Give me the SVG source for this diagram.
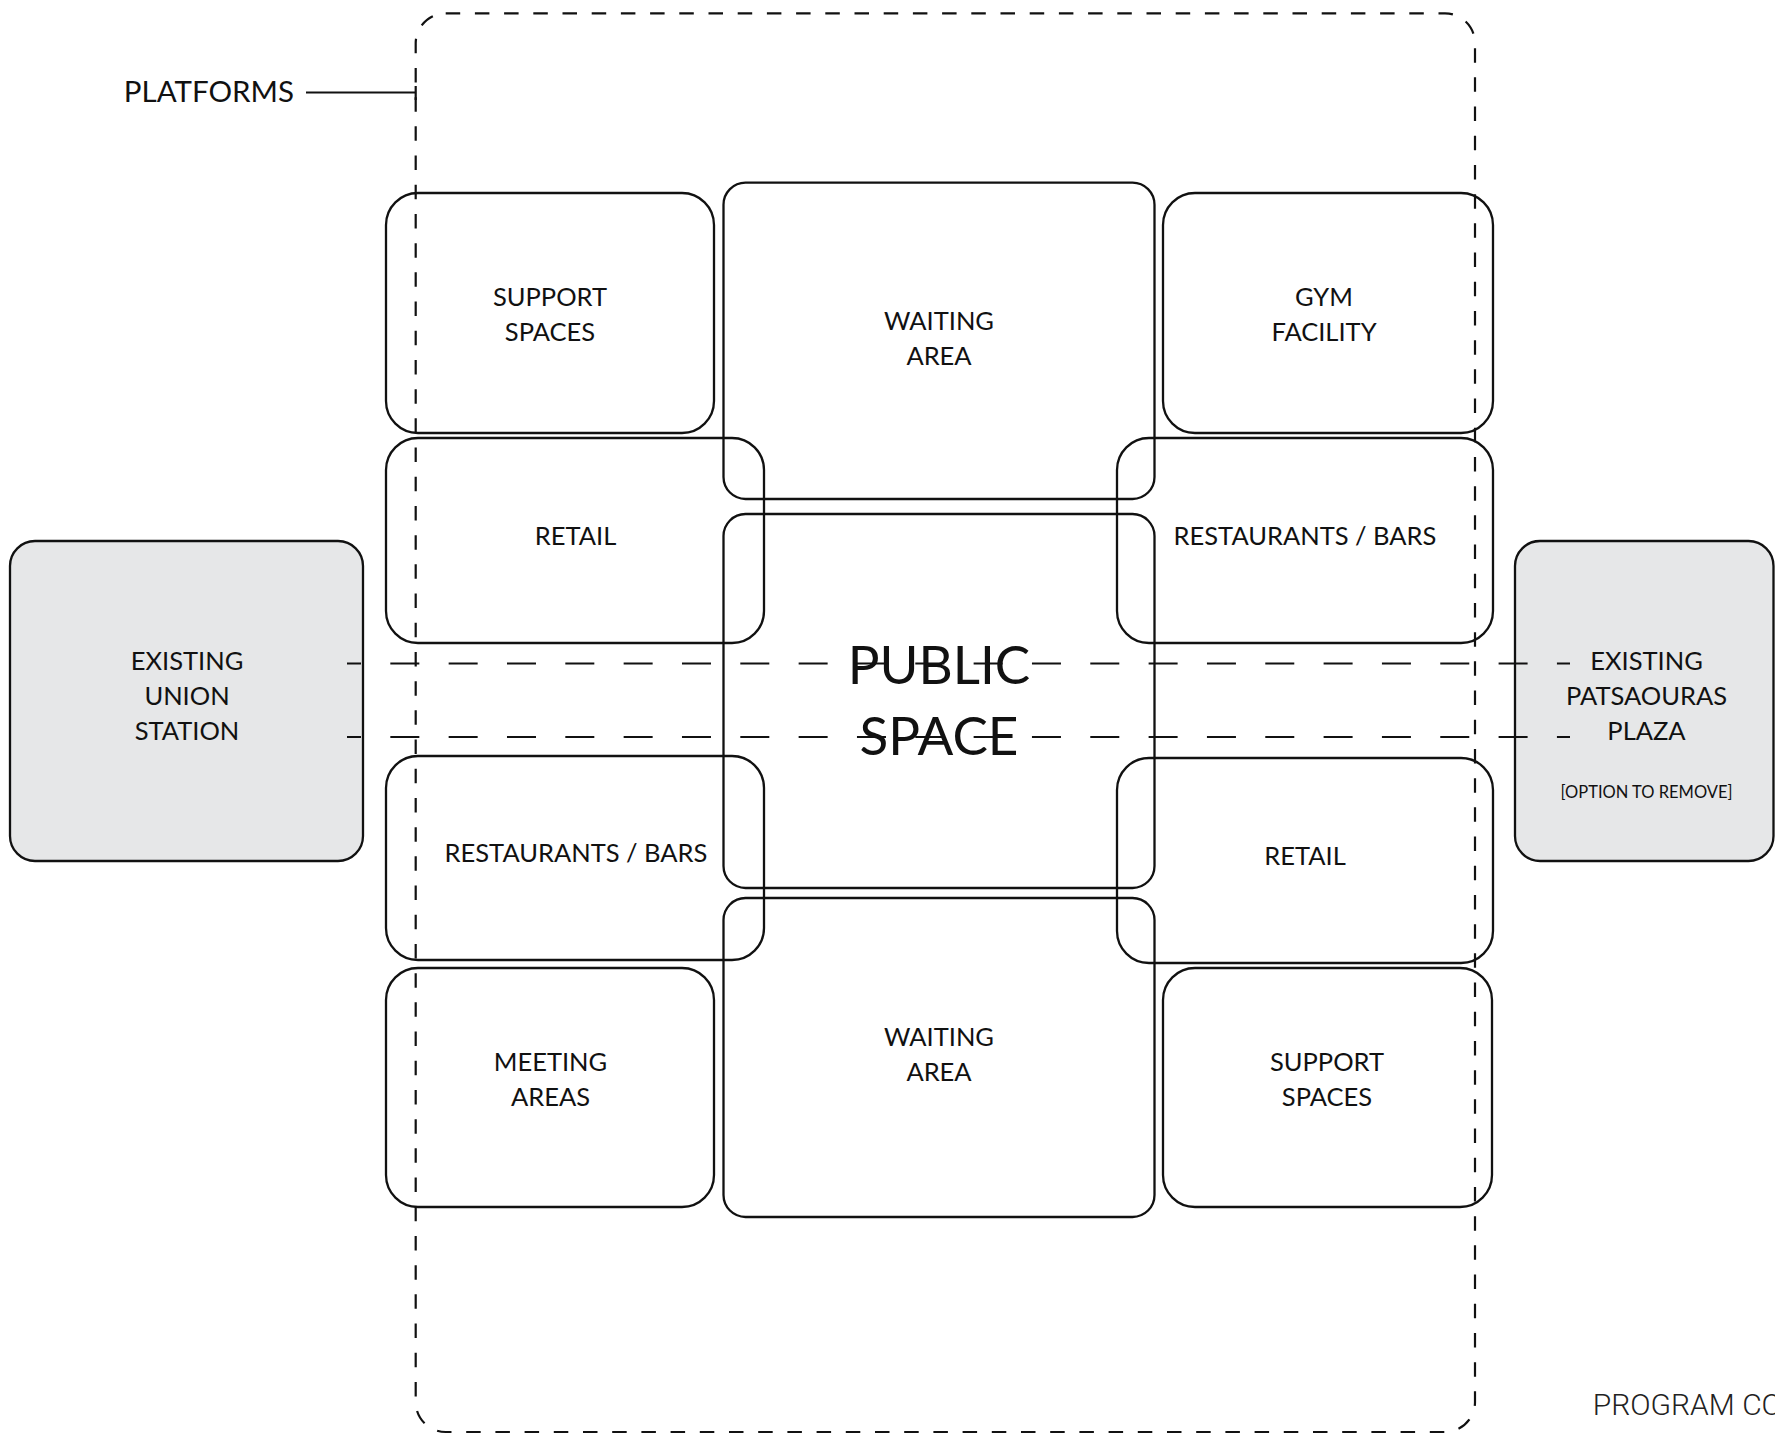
<svg xmlns="http://www.w3.org/2000/svg" width="1775" height="1438" viewBox="0 0 1775 1438">
  <style>
    .room { fill: none; stroke: #111; stroke-width: 2.3; }
    .existing { fill: #e6e7e8; stroke: #111; stroke-width: 2.3; }
    .zone { fill: none; stroke: #111; stroke-width: 2.2; stroke-dasharray: 14.5 14.7; }
    .axis { fill: none; stroke: #111; stroke-width: 2.2; stroke-dasharray: 29 29.33; }
    .leader { fill: none; stroke: #111; stroke-width: 2.2; }
    .lbl { font-family: Lato, "Liberation Sans", sans-serif; font-size: 25.5px; fill: #111; text-anchor: middle; }
    .big { font-size: 53px; }
    .small { font-size: 16.5px; }
    .title { font-family: Roboto, "Liberation Sans", sans-serif; font-weight: 300; font-size: 30px; fill: #222; }
  </style>

  <rect width="1775" height="1438" fill="#fff"/>

  <!-- existing neighbours -->
  <g id="union-station">
    <rect class="existing" x="10" y="541" width="353" height="320" rx="25"/>
    <text class="lbl"><tspan x="187" y="670">EXISTING</tspan><tspan x="187" y="704.5">UNION</tspan><tspan x="187" y="739.5">STATION</tspan></text>
  </g>
  <g id="patsaouras-plaza">
    <rect class="existing" x="1515" y="541" width="258.5" height="320" rx="25"/>
    <text class="lbl"><tspan x="1646.5" y="670">EXISTING</tspan><tspan x="1646.5" y="705">PATSAOURAS</tspan><tspan x="1646.5" y="740">PLAZA</tspan></text>
    <text class="lbl small" x="1646.5" y="798">[OPTION TO REMOVE]</text>
  </g>

  <!-- platform zone -->
  <g id="platforms">
    <rect class="zone" x="415.7" y="13.3" width="1059.3" height="1418.7" rx="30"/>
    <text class="lbl" style="font-size:29.5px;text-anchor:end" x="294" y="101.7">PLATFORMS</text>
  </g>

  <!-- program rooms -->
  <g id="support-spaces-north">
    <rect class="room" x="386" y="193" width="328" height="240" rx="32"/>
    <text class="lbl"><tspan x="550" y="306">SUPPORT</tspan><tspan x="550" y="341">SPACES</tspan></text>
  </g>
  <g id="waiting-area-north">
    <rect class="room" x="723.5" y="182.7" width="431" height="316.3" rx="22"/>
    <text class="lbl"><tspan x="939" y="329.5">WAITING</tspan><tspan x="939" y="364.5">AREA</tspan></text>
  </g>
  <g id="gym-facility">
    <rect class="room" x="1163" y="193" width="330" height="240" rx="32"/>
    <text class="lbl"><tspan x="1324" y="306">GYM</tspan><tspan x="1324" y="341">FACILITY</tspan></text>
  </g>
  <g id="retail-west">
    <rect class="room" x="386" y="438" width="378" height="205" rx="32"/>
    <text class="lbl" x="575.5" y="545">RETAIL</text>
  </g>
  <g id="restaurants-east">
    <rect class="room" x="1117" y="438" width="376" height="205" rx="32"/>
    <text class="lbl" x="1305" y="545">RESTAURANTS / BARS</text>
  </g>
  <g id="public-space">
    <rect class="room" x="723.5" y="514" width="431" height="374" rx="22"/>
    <text class="lbl big"><tspan x="939" y="683.5">PUBLIC</tspan><tspan x="939" y="755">SPACE</tspan></text>
  </g>
  <g id="restaurants-west">
    <rect class="room" x="386" y="756" width="378" height="204" rx="32"/>
    <text class="lbl" x="576" y="862">RESTAURANTS / BARS</text>
  </g>
  <g id="retail-east">
    <rect class="room" x="1117" y="758" width="376" height="205" rx="32"/>
    <text class="lbl" x="1305" y="865">RETAIL</text>
  </g>
  <g id="waiting-area-south">
    <rect class="room" x="723.5" y="898" width="431" height="319" rx="22"/>
    <text class="lbl"><tspan x="939" y="1045.5">WAITING</tspan><tspan x="939" y="1080.5">AREA</tspan></text>
  </g>
  <g id="meeting-areas">
    <rect class="room" x="386" y="968" width="328" height="239" rx="32"/>
    <text class="lbl"><tspan x="550.5" y="1071">MEETING</tspan><tspan x="550.5" y="1106">AREAS</tspan></text>
  </g>
  <g id="support-spaces-south">
    <rect class="room" x="1163" y="968" width="329" height="239" rx="32"/>
    <text class="lbl"><tspan x="1327" y="1070.5">SUPPORT</tspan><tspan x="1327" y="1105.5">SPACES</tspan></text>
  </g>

  <!-- connectors: leader and the two east-west axes -->
  <g id="connectors">
    <line class="leader" x1="306" y1="92.5" x2="415.7" y2="92.5"/>
    <line class="leader" x1="415.7" y1="86" x2="415.7" y2="100"/>
    <line class="axis" x1="347" y1="663.5" x2="1570" y2="663.5" stroke-dashoffset="15"/>
    <line class="axis" x1="347" y1="737" x2="1570" y2="737" stroke-dashoffset="15"/>
  </g>

  <text class="title" x="1592.7" y="1415">PROGRAM CO</text>
</svg>
